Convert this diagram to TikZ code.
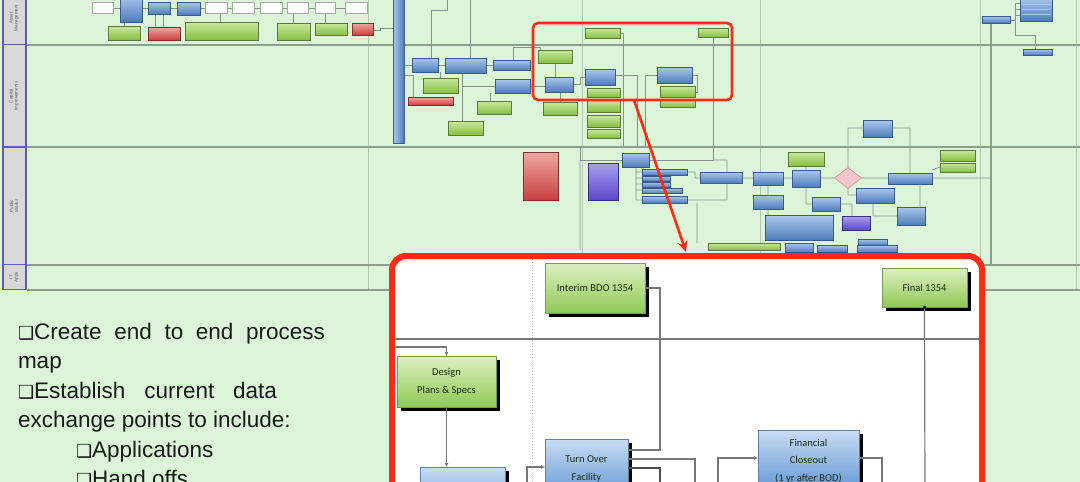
\documentclass[tikz,border=0pt]{standalone}
\usepackage{fontspec}
\setmainfont{Liberation Sans}
\newfontfamily\carlito{Carlito}
\newfontfamily\dejavu{DejaVu Sans}
\usetikzlibrary{shadows,shapes.geometric,arrows.meta}
\definecolor{bg}{HTML}{DCF5D9}
\definecolor{laneline}{HTML}{8E9E8C}
\definecolor{gridl}{HTML}{B4C6B0}
\definecolor{lanelbl}{HTML}{D8D8D8}
\definecolor{laneblue}{HTML}{5A5AC0}
\definecolor{conn}{HTML}{86928A}
\definecolor{gtop}{HTML}{C9E8A0}
\definecolor{gbot}{HTML}{86C040}
\definecolor{gbord}{HTML}{5E7A3A}
\definecolor{btop}{HTML}{A9C8EC}
\definecolor{bbot}{HTML}{4F7DBA}
\definecolor{bbord}{HTML}{3A5A88}
\definecolor{rtop}{HTML}{F0A8A0}
\definecolor{rbot}{HTML}{C84040}
\definecolor{rbord}{HTML}{803030}
\definecolor{ptop}{HTML}{A8A0F0}
\definecolor{pbot}{HTML}{5A48C8}
\definecolor{pbord}{HTML}{3A3080}
\definecolor{callred}{HTML}{FF2A12}
\definecolor{igtop}{HTML}{DCF0C2}
\definecolor{igbot}{HTML}{90C955}
\definecolor{igbord}{HTML}{7A9A5A}
\definecolor{ibtop}{HTML}{C8DDF4}
\definecolor{ibbot}{HTML}{5F95D2}
\definecolor{ibbord}{HTML}{6080A8}
\definecolor{itext}{HTML}{1E2A14}
\definecolor{iline}{HTML}{777777}
\definecolor{txt}{HTML}{1A1A1A}
\definecolor{dpink}{HTML}{F7C6CC}
\definecolor{dpinkb}{HTML}{D98A96}
\newcommand\bx[6]{\node[#1, minimum width={(#5-#3)*1pt}, minimum height={(#6-#4)*1pt}] (#2) at ({(#3+#5)/2},{(#4+#6)/2}) {};}
\newcommand\tbx[7]{\node[#1, minimum width={(#5-#3)*1pt}, minimum height={(#6-#4)*1pt}, itxt] (#2) at ({(#3+#5)/2},{(#4+#6)/2}) {#7};}
\newcommand\bulbox{{\dejavu\fontsize{18}{18}\selectfont ❑}}
\tikzset{
  mbox/.style={draw=#1, line width=0.6pt, inner sep=0pt, outer sep=0pt,
    drop shadow={shadow xshift=1.2pt, shadow yshift=-1.2pt, fill=black!75, opacity=0.7}},
  gb/.style={mbox=gbord, top color=gtop, bottom color=gbot},
  bb/.style={mbox=bbord, top color=btop, bottom color=bbot},
  rb/.style={mbox=rbord, top color=rtop, bottom color=rbot},
  pb/.style={mbox=pbord, top color=ptop, bottom color=pbot},
  wb/.style={draw=gray!70, fill=white, line width=0.9pt, inner sep=0pt, outer sep=0pt},
  ibox/.style={line width=0.5pt, inner sep=0pt, outer sep=0pt,
    drop shadow={shadow xshift=4pt, shadow yshift=-4pt, fill=black, opacity=1}},
  igb/.style={ibox, draw=igbord, top color=igtop, bottom color=igbot},
  ibb/.style={ibox, draw=ibbord, top color=ibtop, bottom color=ibbot},
  itxt/.style={font=\carlito\fontsize{10.5}{17.5}\selectfont, text=itext, align=center},
  conn/.style={draw=conn, line width=0.8pt},
  iconn/.style={draw=iline, line width=1.2pt},
  itip/.style={-{Latex[length=4pt,width=4pt]}},
  btxt/.style={font=\fontsize{22.5}{26}\selectfont, text=txt, inner sep=0pt, outer sep=0pt, anchor=base west},
  lbl/.style={rotate=90, font=\fontsize{4.5}{5}\selectfont, align=center, text=black!65, inner sep=0pt}
}
\begin{document}
\begin{tikzpicture}[x=1pt,y=-1pt]
\useasboundingbox (0,0) rectangle (1080,482);
\clip (0,0) rectangle (1080,482);
\fill[bg] (0,0) rectangle (1080,482);
% grid lines
\foreach \gx in {368,582,760,980,1076} \draw[gridl, line width=1pt] (\gx,0) -- (\gx,290);
\draw[laneline, line width=1.2pt] (991,20) -- (991,265);
% lane lines
\foreach \ly in {45,147,265,290} \draw[laneline, line width=1.4pt] (27,\ly) -- (1080,\ly);
% left label column
\fill[lanelbl] (2,-5) rectangle (27,290);
\draw[laneblue, line width=1.6pt] (3,-5) -- (3,290) (26,-5) -- (26,290);
\foreach \ly in {44.5,147,264.5,289.5} \draw[laneblue, line width=1.6pt] (2,\ly) -- (27,\ly);
\node[lbl] (lab1) at (14,18) {Asset\\Management};
\node[lbl] (lab2) at (14,96) {Capital\\Improvements};
\node[lbl] (lab3) at (14,206) {Public\\Works};
\node[lbl] (lab4) at (14,277) {IT\\Apps};
% lane 1 connectors
\draw[conn] (92,8) -- (367,8);
\draw[conn] (124,22) -- (124,26) (155,14) -- (155,27) (163,14) -- (163,27) (220,14) -- (220,22)
  (293,13) -- (293,23) (325,13) -- (325,23) (373,30) -- (380,30) -- (380,28) -- (393,28);
% lane 2 connectors
\draw[conn] (404,65) -- (412,65) (438,65) -- (445,65) (486,65) -- (493,65)
  (431,58) -- (431,10) -- (447,10) -- (447,-2) (470,58) -- (470,-2)
  (404,75) -- (413,75) -- (413,97) (440,72) -- (440,78) (462,73) -- (462,121)
  (462,86) -- (495,86) (490,93) -- (490,101) (513,60) -- (513,47) -- (540,47) -- (540,50)
  (530,86) -- (545,86) (573,84) -- (580,84) -- (580,77) -- (585,77) (560,92) -- (560,102)
  (555,63) -- (555,77) (615,75) -- (637,75) -- (637,147) (620,33) -- (623,33) -- (623,147)
  (657,75) -- (645,75) -- (645,147) (692,75) -- (697,75) -- (697,92) -- (695,92)
  (713,37) -- (713,160) -- (580,160) -- (580,147);
% right top connectors
\draw[conn] (1010,20) -- (1015,20) -- (1015,3) -- (1020,3) (1015,9) -- (1020,9) (1015,15) -- (1020,15)
  (1015,20) -- (1015,35) -- (1035,35) -- (1035,49);
% lane 3 connectors
\draw[conn] (580,160) -- (580,250) (697,203) -- (697,243) (636,167) -- (636,200)
  (636,172) -- (642,172) (636,178) -- (642,178) (636,184) -- (642,184) (636,190) -- (642,190) (636,200) -- (642,200)
  (687,172) -- (695,172) -- (695,178) -- (700,178) (713,160) -- (727,160) -- (727,200) -- (687,200)
  (742,178) -- (753,178) (783,178) -- (792,178) (820,178) -- (835,178)
  (848,168) -- (848,128) -- (863,128) (892,128) -- (910,128) -- (910,173) (932,178) -- (991,178)
  (861,178) -- (888,178) (848,188) -- (848,195) -- (856,195) (768,185) -- (768,195)
  (806,187) -- (806,204) -- (812,204) (840,204) -- (852,204) -- (852,216)
  (873,203) -- (873,216) -- (897,216) (920,184) -- (920,207) (806,166) -- (806,170)
  (768,209) -- (768,215) (932,170) -- (940,167);
% lane 1 boxes
\bx{wb}{a1}{92}{2}{113}{13}
\bx{bb}{a2}{120}{-5}{142}{22}
\bx{bb}{a3}{148}{2}{170}{14}
\bx{bb}{a4}{177}{2}{200}{15}
\bx{wb}{a5}{205}{2}{227}{13}
\bx{wb}{a6}{232}{2}{254}{13}
\bx{wb}{a7}{260}{2}{282}{13}
\bx{wb}{a8}{287}{2}{308}{13}
\bx{wb}{a9}{315}{2}{335}{13}
\bx{wb}{a10}{345}{2}{367}{13}
\bx{gb}{b1}{108}{26}{140}{40}
\bx{rb}{b2}{148}{27}{180}{40}
\bx{gb}{b3}{185}{22}{258}{40}
\bx{gb}{b4}{277}{23}{310}{40}
\bx{gb}{b5}{315}{23}{347}{35}
\bx{rb}{b6}{352}{23}{373}{35}
% blue bar
\node[mbox=bbord, left color=btop, right color=bbot, minimum width=11pt, minimum height=148pt] (bar) at (398.5,69) {};
% lane 2 boxes
\bx{bb}{c1}{412}{58}{438}{72}
\bx{bb}{c2}{445}{58}{486}{73}
\bx{bb}{c3}{493}{60}{530}{70}
\bx{gb}{c4}{423}{78}{458}{93}
\bx{rb}{c5}{408}{97}{453}{105}
\bx{bb}{c6}{495}{79}{530}{93}
\bx{gb}{c7}{477}{101}{511}{114}
\bx{gb}{c8}{448}{121}{483}{135}
\bx{gb}{c9}{538}{50}{572}{63}
\bx{bb}{c10}{545}{77}{573}{92}
\bx{bb}{c11}{585}{69}{615}{85}
\bx{gb}{c12}{587}{88}{620}{97}
\bx{gb}{c13}{587}{100}{620}{112}
\bx{gb}{c14}{587}{115}{620}{127}
\bx{gb}{c15}{587}{129}{620}{138}
\bx{gb}{c16}{543}{102}{577}{115}
\bx{gb}{c17}{585}{28}{620}{38}
\bx{gb}{c18}{698}{28}{728}{37}
\bx{bb}{c19}{657}{67}{692}{83}
\bx{gb}{c20}{660}{86}{695}{97}
\bx{gb}{c21}{660}{99}{695}{107}
\bx{bb}{c22}{863}{120}{892}{137}
\bx{bb}{d1}{982}{16}{1010}{23}
\bx{bb}{d2}{1020}{-3}{1052}{21}
\draw[btop, line width=0.6pt] (1021,4) -- (1051,4) (1021,9) -- (1051,9) (1021,14) -- (1051,14);
\bx{bb}{d3}{1023}{49}{1052}{55}
% lane 3 boxes
\bx{rb}{e1}{523}{152}{558}{200}
\bx{pb}{e2}{588}{163}{618}{200}
\bx{bb}{e3}{622}{153}{649}{167}
\bx{bb}{e4}{642}{169}{687}{175}
\bx{bb}{e5}{642}{176}{670}{181}
\bx{bb}{e6}{642}{182}{670}{187}
\bx{bb}{e7}{642}{188}{682}{193}
\bx{bb}{e8}{642}{196}{687}{203}
\bx{bb}{e9}{700}{172}{742}{183}
\bx{bb}{e10}{753}{172}{783}{185}
\bx{gb}{e11}{788}{152}{824}{166}
\bx{bb}{e12}{792}{170}{820}{187}
\node[diamond, draw=dpinkb, fill=dpink, minimum width=27pt, minimum height=21pt, inner sep=0pt, line width=0.6pt] (e13) at (848,178) {};
\bx{bb}{e14}{888}{173}{932}{184}
\bx{bb}{e15}{856}{188}{894}{203}
\bx{bb}{e16}{753}{195}{783}{209}
\bx{bb}{e17}{812}{197}{840}{211}
\bx{bb}{e18}{897}{207}{925}{225}
\bx{pb}{e19}{842}{216}{870}{230}
\bx{bb}{e20}{765}{215}{833}{240}
\bx{gb}{e21}{940}{150}{975}{161}
\bx{gb}{e22}{940}{163}{975}{172}
\bx{gb}{e23}{708}{243}{780}{250}
\bx{bb}{e24}{785}{243}{813}{252}
\bx{bb}{e25}{817}{245}{847}{252}
\bx{bb}{e26}{857}{245}{897}{252}
\bx{bb}{e27}{858}{239}{887}{245}
% callout
\draw[callred, line width=2.6pt, rounded corners=5pt] (533,23) rectangle (732,100);
% inset
\fill[white, rounded corners=14pt] (392,256) rectangle (982,530);
\draw[iline, line width=1.3pt] (395,339) -- (979,339);
\draw[gray!55, line width=0.8pt, dotted] (532,259) -- (532,482);
\tbx{igb}{interim}{545}{263}{645}{313}{Interim BDO 1354}
\tbx{igb}{final}{882}{268}{967}{307}{Final 1354}
\tbx{igb}{design}{397}{356}{496}{407}{Design\\Plans \& Specs}
\tbx{ibb}{ws}{420}{467}{505}{520}{}
\tbx{ibb}{turn}{545}{439}{628}{499}{Turn Over\\Facility}
\tbx{ibb}{fin}{758}{430}{859}{492}{Financial\\Closeout\\(1 yr after BOD)}
\coordinate (inl) at (395,347);
\coordinate (turnin) at (527,467);
\coordinate (finin) at (718,458);
\draw[iconn, itip] (inl) -- (446.5,347) -- (design.north);
\draw[iconn, itip] (design.south) -- (design.south |- ws.north);
\draw[iconn, itip] (turnin |- 0,490) -- (turnin) -- (turnin -| turn.west);
\draw[iconn] (interim.east |- 0,288) -- (660,288) -- (660,450) -- (turn.east |- 0,450);
\draw[iconn] (turn.east |- 0,459) -- (695,459) -- (695,490);
\draw[iconn, line width=1.6pt, draw=black!70] (turn.east |- 0,468) -- (660,468) -- (660,490);
\draw[iconn, itip] (finin |- 0,490) -- (finin) -- (finin -| fin.west);
\draw[iconn] (fin.east |- 0,458) -- (882,458) -- (882,490);
\draw[iconn] (final.south) -- (925,490);
\fill[black] (final.south) circle (1.5pt);
\draw[callred, line width=6pt, rounded corners=14pt] (392,256) rectangle (982,530);
% arrow
\draw[callred, line width=2.6pt, -{Stealth[length=11pt,width=10pt]}] (634,100) -- (686,252);
% text
\node[btxt] (t1) at (18,339) {\makebox[307pt][s]{\bulbox Create end to end process}};
\node[btxt] (t2) at (18,368.5) {map};
\node[btxt] (t3) at (18,398) {\makebox[259pt][s]{\bulbox Establish current data}};
\node[btxt] (t4) at (18,427.5) {exchange points to include:};
\node[btxt] (t5) at (76,457) {\bulbox Applications};
\node[btxt] (t6) at (76,486.5) {\bulbox Hand offs};
\end{tikzpicture}
\end{document}
